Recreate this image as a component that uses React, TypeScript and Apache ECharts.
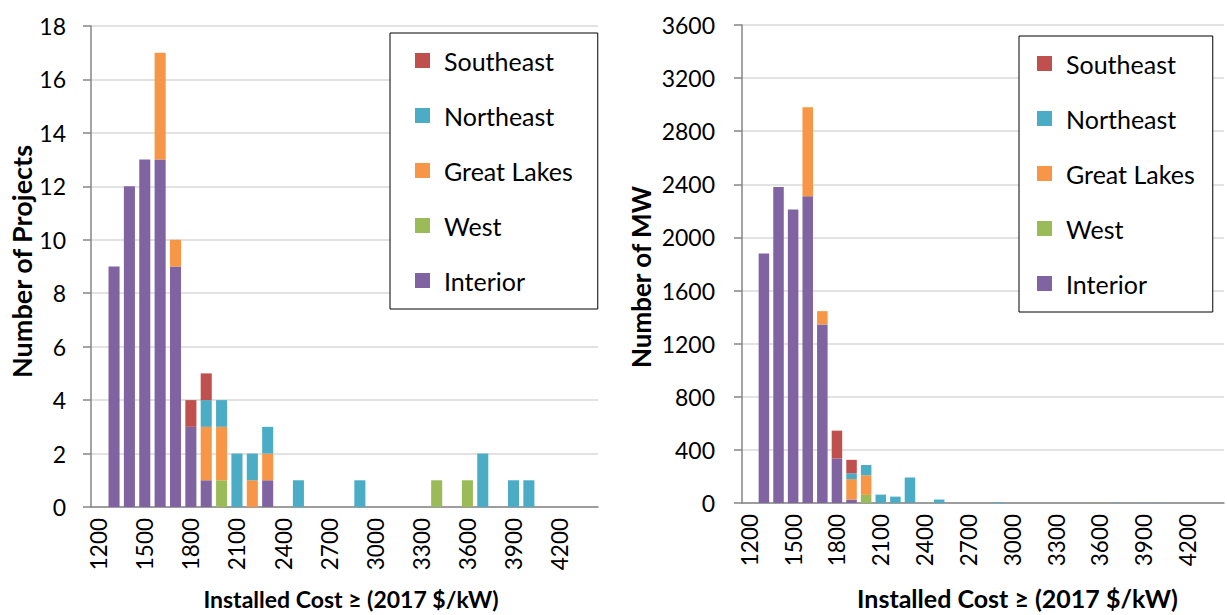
import React, { useEffect, useRef } from "react";
import * as echarts from "echarts";

const categories = [
  "1200", "1300", "1400", "1500", "1600", "1700", "1800", "1900", "2000", "2100", "2200",
  "2300", "2400", "2500", "2600", "2700", "2800", "2900", "3000", "3100", "3200", "3300",
  "3400", "3500", "3600", "3700", "3800", "3900", "4000", "4100", "4200", "4300", "4400",
];

const seriesNames = ["Interior", "West", "Great Lakes", "Northeast", "Southeast"];
const legendOrder = ["Southeast", "Northeast", "Great Lakes", "West", "Interior"];
const seriesColors = ["#8064A2", "#9BBB59", "#F79646", "#4BACC6", "#C0504D"];

// Number of projects per cost bin
const projInterior = [0, 9, 12, 13, 13, 9, 3, 1, 0, 0, 0, 1, 0, 0, 0, 0, 0, 0, 0, 0, 0, 0, 0, 0, 0, 0, 0, 0, 0, 0, 0, 0, 0];
const projWest = [0, 0, 0, 0, 0, 0, 0, 0, 1, 0, 0, 0, 0, 0, 0, 0, 0, 0, 0, 0, 0, 0, 1, 0, 1, 0, 0, 0, 0, 0, 0, 0, 0];
const projGreatLakes = [0, 0, 0, 0, 4, 1, 0, 2, 2, 0, 1, 1, 0, 0, 0, 0, 0, 0, 0, 0, 0, 0, 0, 0, 0, 0, 0, 0, 0, 0, 0, 0, 0];
const projNortheast = [0, 0, 0, 0, 0, 0, 0, 1, 1, 2, 1, 1, 0, 1, 0, 0, 0, 1, 0, 0, 0, 0, 0, 0, 0, 2, 0, 1, 1, 0, 0, 0, 0];
const projSoutheast = [0, 0, 0, 0, 0, 0, 1, 1, 0, 0, 0, 0, 0, 0, 0, 0, 0, 0, 0, 0, 0, 0, 0, 0, 0, 0, 0, 0, 0, 0, 0, 0, 0];

// Capacity (MW) per cost bin
const mwInterior = [0, 1880, 2380, 2210, 2310, 1345, 335, 26, 0, 0, 0, 2, 0, 0, 0, 0, 0, 0, 0, 0, 0, 0, 0, 0, 0, 0, 0, 0, 0, 0, 0, 0, 0];
const mwWest = [0, 0, 0, 0, 0, 0, 0, 0, 61, 0, 0, 0, 0, 0, 0, 0, 0, 0, 0, 0, 0, 0, 1, 0, 1, 0, 0, 0, 0, 0, 0, 0, 0];
const mwGreatLakes = [0, 0, 0, 0, 670, 100, 0, 154, 148, 0, 1, 1, 0, 0, 0, 0, 0, 0, 0, 0, 0, 0, 0, 0, 0, 0, 0, 0, 0, 0, 0, 0, 0];
const mwNortheast = [0, 0, 0, 0, 0, 0, 0, 44, 77, 63, 47, 189, 0, 26, 0, 0, 0, 6, 0, 0, 0, 0, 0, 0, 0, 2, 0, 1, 1, 0, 0, 0, 0];
const mwSoutheast = [0, 0, 0, 0, 0, 0, 210, 101, 0, 0, 0, 0, 0, 0, 0, 0, 0, 0, 0, 0, 0, 0, 0, 0, 0, 0, 0, 0, 0, 0, 0, 0, 0];

const xAxisTitle = "Installed Cost ≥ (2017 $/kW)";
const leftYTitle = "Number of Projects";
const rightYTitle = "Number of MW";

const FONT = 'Lato, "Open Sans", sans-serif';

export default function App() {
  const ref = useRef<HTMLDivElement>(null);

  useEffect(() => {
    document.body.style.margin = "0";
    if (!ref.current) return;
    const chart = echarts.init(ref.current, undefined, { renderer: "svg" });

    const axisLineColor = "#868686";
    const makeX = (gridIndex: number, padLeft: number, gap: number, nameSize: number) => ({
      type: "category",
      gridIndex,
      data: categories,
      axisLine: { lineStyle: { color: axisLineColor, width: 1.5 } },
      axisTick: { interval: 0, length: 7, lineStyle: { color: axisLineColor, width: 1.5 } },
      axisLabel: { interval: 2, rotate: 90, margin: 11, fontSize: 22.5, color: "#000", fontFamily: FONT },
      splitLine: { show: false },
      name: xAxisTitle,
      nameLocation: "middle",
      nameGap: gap,
      nameTextStyle: { fontSize: nameSize, fontWeight: "bold", color: "#000", fontFamily: FONT, padding: [0, 0, 0, padLeft] },
    });
    const makeY = (
      gridIndex: number,
      max: number,
      interval: number,
      name: string,
      gap: number,
      nameSize: number,
      namePad: number[],
      labelMargin: number
    ) => ({
      type: "value",
      gridIndex,
      min: 0,
      max,
      interval,
      axisLine: { show: true, lineStyle: { color: axisLineColor, width: 1.5 } },
      axisTick: { show: true, length: 8, lineStyle: { color: axisLineColor, width: 1.5 } },
      axisLabel: {
        margin: labelMargin,
        fontSize: 23,
        color: "#000",
        fontFamily: FONT,
        formatter: (v: number) => String(v),
      },
      splitLine: { lineStyle: { color: "#d9d9d9", width: 1.5 } },
      name,
      nameLocation: "middle",
      nameRotate: 90,
      nameGap: gap,
      nameTextStyle: { fontSize: nameSize, fontWeight: "bold", color: "#000", fontFamily: FONT, padding: namePad },
    });

    const projData = [projInterior, projWest, projGreatLakes, projNortheast, projSoutheast];
    const mwData = [mwInterior, mwWest, mwGreatLakes, mwNortheast, mwSoutheast];

    const series: any[] = [];
    seriesNames.forEach((n, i) => {
      series.push({
        type: "bar",
        name: n,
        stack: "proj",
        xAxisIndex: 0,
        yAxisIndex: 0,
        data: projData[i],
        barCategoryGap: "28%",
        itemStyle: { color: seriesColors[i] },
      });
    });
    seriesNames.forEach((n, i) => {
      series.push({
        type: "bar",
        name: n,
        stack: "mw",
        xAxisIndex: 1,
        yAxisIndex: 1,
        data: mwData[i],
        barCategoryGap: "28%",
        itemStyle: { color: seriesColors[i] },
      });
    });

    const makeLegend = (left: number, top: number, padH: number) => ({
      data: legendOrder,
      orient: "vertical",
      left,
      top,
      icon: "rect",
      itemWidth: 15,
      itemHeight: 15,
      itemGap: 30,
      padding: [15, padH, 16, padH],
      borderColor: "#000",
      borderWidth: 1,
      backgroundColor: "#fff",
      selectedMode: false,
      textStyle: { fontSize: 25, lineHeight: 25, color: "#000", fontFamily: FONT, padding: [0, 0, 0, 9] },
    });

    chart.setOption({
      animation: false,
      color: seriesColors,
      grid: [
        { left: 91, top: 26, width: 507, height: 483.5 },
        { left: 742, top: 25, width: 482, height: 484.5 },
      ],
      xAxis: [makeX(0, 13, 80, 23), makeX(1, 69, 82, 25)],
      yAxis: [
        makeY(0, 18, 2, leftYTitle, 55, 27, [0, 0, 0, 10], 25),
        makeY(1, 3600, 400, rightYTitle, 88, 26, [0, 26, 0, 0], 27),
      ],
      legend: [makeLegend(390, 33, 25), makeLegend(1019, 36, 18)],
      series,
    });

    return () => {
      chart.dispose();
    };
  }, []);

  return <div ref={ref} style={{ width: 1227, height: 615 }} />;
}
